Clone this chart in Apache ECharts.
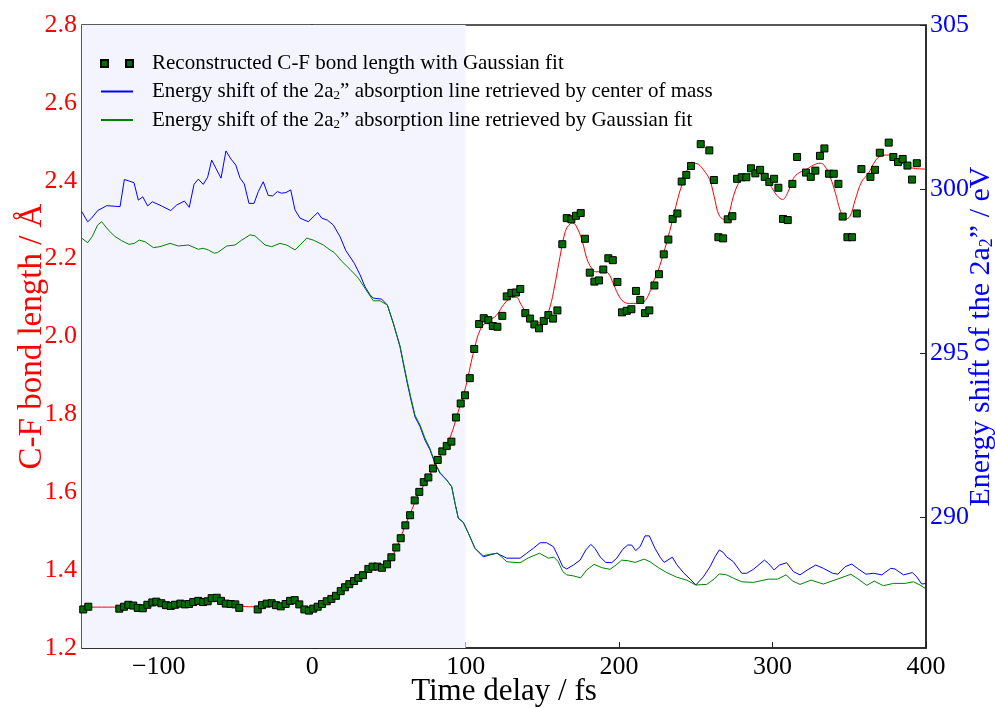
<!DOCTYPE html>
<html>
<head>
<meta charset="utf-8">
<script src="https://cdn.jsdelivr.net/npm/echarts@6/dist/echarts.min.js"></script>
<style>html,body{margin:0;padding:0;background:#fff;}#c{width:995px;height:708px;}</style>
</head>
<body>
<div id="c"></div>
<script>
// ---- data ----
const xTicks = [-100, 0, 100, 200, 300, 400];
const rightTicks = [290, 295, 300, 305];
const shadeRange = [-150, 100];

const bondT = [-149.2,-145.9,-125.7,-122.6,-119.8,-116.6,-113.7,-110.4,-107.4,-104.2,-101.6,-98.3,-95.3,-92.2,-89.4,-85.9,-82.9,-80.3,-77.5,-74.2,-71.1,-68.1,-65.5,-62.2,-59.4,-56.3,-53.1,-50.1,-47.5,-35.5,-32.7,-29.6,-26.4,-23.6,-20.5,-17.3,-14.4,-11.4,-8.4,-5.1,-2.1,0.7,3.6,6.4,9.5,12.5,15.5,18.6,21.4,24.2,27.3,30.1,33.1,36.6,39.4,42.5,45.5,48.8,51.6,54.8,57.7,60.7,63.8,66.8,69.8,72.7,75.7,78.7,81.8,84.8,87.7,90.7,93.7,96.8,99.6,102.7,105.6,108.8,111.8,114.8,117.7,120.7,123.9,126.8,129.8,132.8,135.6,138.9,142,144.8,147.8,150.9,153.9,157,159.8,163,165.9,168.9,171.9,175,177.8,180.9,183.9,186.9,189.7,193,195.9,198.9,201.9,205,208,211,213.8,216.9,219.7,223,226,229.1,232.1,234.9,238,240.8,243.8,246.9,253.2,258.8,261.8,264.7,267.8,270.8,273.8,276.9,279.9,282.9,286,288.8,291.9,294.9,297.9,301,303.8,306.8,309.9,312.9,316,321.8,324.9,327.9,330.9,333.8,336.8,339.9,342.9,345.7,348.8,351.8,354.9,357.9,363.8,366.8,369.9,375.7,378.7,381.8,384.8,387.9,390.9,394];
const bondL = [1.299,1.306,1.301,1.306,1.311,1.309,1.303,1.302,1.311,1.317,1.319,1.315,1.310,1.308,1.311,1.314,1.312,1.313,1.318,1.321,1.318,1.320,1.328,1.329,1.321,1.314,1.313,1.312,1.303,1.299,1.310,1.314,1.315,1.310,1.307,1.313,1.321,1.323,1.312,1.299,1.296,1.301,1.306,1.313,1.320,1.326,1.334,1.346,1.356,1.364,1.372,1.380,1.387,1.403,1.409,1.409,1.406,1.415,1.433,1.458,1.482,1.515,1.541,1.579,1.601,1.626,1.638,1.661,1.683,1.705,1.719,1.730,1.792,1.828,1.849,1.893,1.968,2.032,2.047,2.042,2.027,2.025,2.053,2.103,2.112,2.113,2.122,2.060,2.046,2.031,2.021,2.040,2.055,2.046,2.067,2.237,2.304,2.301,2.310,2.317,2.251,2.164,2.141,2.144,2.172,2.201,2.196,2.140,2.062,2.066,2.070,2.117,2.094,2.060,2.067,2.131,2.160,2.211,2.249,2.302,2.316,2.398,2.415,2.438,2.494,2.478,2.402,2.255,2.252,2.301,2.309,2.405,2.409,2.409,2.432,2.419,2.428,2.410,2.397,2.405,2.382,2.302,2.299,2.392,2.461,2.421,2.410,2.426,2.464,2.483,2.418,2.418,2.392,2.308,2.255,2.255,2.316,2.430,2.410,2.428,2.472,2.498,2.461,2.448,2.456,2.439,2.403,2.445];

const fitT = [-150,-140,-130,-125,-120,-115,-110,-105,-100,-95,-90,-85,-80,-75,-70,-65,-60,-55,-50,-45,-40,-35,-30,-25,-20,-15,-10,-5,0,5,10,15,20,25,30,35,40,45,50,55,60,65,70,75,80,85,90,95,100,105,110,115,120,125,130,133,136,140,145,148,152,155,158,161.5,165,168,170,173,176,179,182,185,190,193,196,199.5,203,207,211.5,216,219,222,225.6,229,232,235.4,238.6,242,245,248.4,251.7,255,259,262,265,268.4,271.2,274.4,277.7,281,285,290,294,298.4,302.7,306.6,309.7,313.6,317.5,322,326.6,331,334,337.5,341,344,347.3,350.5,353.8,358,362.5,366,370,374.5,379,383,387.5,392,400];
const fitL = [1.304,1.305,1.305,1.305,1.308,1.307,1.308,1.314,1.316,1.312,1.311,1.313,1.314,1.318,1.320,1.325,1.323,1.315,1.310,1.307,1.306,1.306,1.311,1.312,1.310,1.317,1.318,1.303,1.300,1.308,1.318,1.331,1.348,1.363,1.378,1.394,1.405,1.410,1.422,1.458,1.508,1.556,1.600,1.632,1.672,1.703,1.742,1.805,1.870,1.957,2.022,2.040,2.054,2.083,2.100,2.101,2.083,2.058,2.038,2.035,2.048,2.076,2.130,2.205,2.270,2.289,2.291,2.276,2.245,2.200,2.176,2.166,2.167,2.162,2.138,2.107,2.089,2.085,2.085,2.089,2.105,2.137,2.171,2.214,2.256,2.308,2.359,2.402,2.432,2.445,2.442,2.428,2.403,2.359,2.313,2.301,2.312,2.359,2.393,2.412,2.417,2.421,2.410,2.389,2.363,2.352,2.368,2.406,2.421,2.429,2.440,2.445,2.438,2.410,2.368,2.325,2.301,2.309,2.350,2.397,2.419,2.445,2.463,2.466,2.462,2.449,2.438,2.432,2.430];

const comT = [-150.2,-146.3,-143.7,-139.8,-133.9,-125.2,-122.4,-116.1,-113.3,-110.4,-107.2,-104.2,-98.1,-92.2,-88.3,-83.3,-80.1,-77,-74.2,-71,-68.1,-65.5,-62.2,-59.4,-56.2,-52.9,-49.8,-47,-44.2,-41.2,-37.9,-35.1,-31.9,-28.6,-25.7,-22.7,-19.9,-17.1,-14,-11.2,-7.9,-2.5,0.7,3.6,6.2,9.9,13.8,18.2,21.9,27.5,31.2,34.4,37.7,39.8,45.3,49,52.9,57.2,59.8,62,64.4,67,70.3,73.5,76.8,80,83.3,87.7,90.9,93.1,95.2,98.5,101.8,106.1,111.5,115.9,120.3,126.8,135.5,139.8,144.1,148.5,152.8,157.2,160.4,163.3,165.9,170.2,174.6,178.3,181.5,184.3,187.6,191.3,195.2,198.5,202.4,205.6,208.2,210.8,213.7,216.9,219.7,223.4,226.7,229.3,234.7,237.5,241.9,246.3,250,254.9,259.3,262.5,265.3,268,270.1,274.5,279.9,283.2,287.5,294.7,297.3,301,304.5,309.2,313.6,317.9,322.7,328.1,333.1,339.2,342.5,347.3,351.6,355.3,360.9,365.7,371.2,377,379.8,385.3,391.1,394,397.2,400];
const comE = [299.31,299.00,299.11,299.34,299.49,299.46,300.29,300.19,299.66,299.76,299.48,299.61,299.48,299.34,299.51,299.63,299.44,300.14,300.30,300.14,300.36,300.88,300.58,300.33,301.16,300.91,300.73,300.33,300.15,299.56,299.56,299.92,300.22,299.80,299.79,299.92,299.87,299.89,299.97,299.36,299.11,299.00,299.15,299.28,299.11,299.05,298.90,298.54,298.12,297.73,297.38,297.02,296.77,296.67,296.64,296.46,295.90,295.19,294.58,294.07,293.56,293.05,292.75,292.34,292.04,291.63,291.33,291.12,290.92,290.41,289.96,289.83,289.50,289.04,288.78,288.84,288.89,288.74,288.74,288.89,289.04,289.21,289.21,289.09,288.78,288.48,288.41,288.53,288.68,288.99,289.16,289.04,288.78,288.61,288.60,288.74,289.01,289.14,289.14,288.97,289.09,289.42,289.42,289.04,288.77,288.61,288.77,288.55,288.30,288.10,287.92,288.17,288.48,288.78,288.99,288.91,288.78,288.63,288.28,288.28,288.40,288.68,288.58,288.38,288.53,288.60,288.33,288.23,288.38,288.53,288.43,288.28,288.25,288.48,288.56,288.43,288.25,288.28,288.23,288.43,288.41,288.23,288.30,288.17,287.95,287.97];

const gaussT = [-150.2,-146.3,-143.3,-139.8,-137.2,-132.9,-128.5,-124.1,-119.4,-115.9,-112.7,-108.9,-103.5,-99.2,-92.6,-87.2,-80.7,-74.2,-71,-67.7,-63.8,-61.6,-55.7,-50.3,-45.9,-40.5,-37.3,-30.7,-26.4,-21,-16.6,-11.2,-7.9,-3.6,0.7,7.3,11.6,14.4,19.2,24.6,30.1,34.4,39.8,44.2,49,52.9,57.2,59.8,62,64.4,67,70.3,73.5,76.8,80,83.3,87.7,90.9,93.1,95.2,98.5,101.8,106.1,111.5,115.9,120.8,126.8,135.5,140.9,148.1,153.9,157.6,160.4,163.3,165.9,170.2,175,178.9,183.7,188.7,194.1,198,201.7,206,210.4,216.3,220.2,225.6,231.1,237.5,244.1,250,257.1,261.9,265.3,270.1,274.5,279.9,287.5,297.3,303.4,308.8,313.2,317.9,325.1,333.1,342.2,351.1,355.9,361.4,366.2,372.2,378.8,386.4,391.8,396.1,399.4];
const gaussE = [298.50,298.36,298.55,298.90,299.00,298.75,298.55,298.42,298.31,298.34,298.44,298.39,298.21,298.24,298.34,298.26,298.29,298.16,298.19,298.14,298.04,298.06,298.26,298.29,298.44,298.60,298.57,298.29,298.24,298.34,298.29,298.14,298.29,298.50,298.44,298.29,298.14,298.06,297.80,297.55,297.28,296.97,296.59,296.59,296.46,295.90,295.22,294.62,294.12,293.62,293.10,292.80,292.40,292.08,291.65,291.35,291.12,290.92,290.41,289.96,289.83,289.50,289.04,288.81,288.86,288.89,288.63,288.60,288.75,288.89,288.74,288.77,288.63,288.33,288.23,288.20,288.14,288.38,288.55,288.45,288.40,288.53,288.68,288.66,288.61,288.71,288.63,288.45,288.30,288.16,288.07,287.92,287.94,288.10,288.26,288.23,288.13,288.02,288.00,288.10,288.10,288.23,288.04,287.94,288.07,287.95,288.10,288.25,288.10,287.91,288.04,287.90,287.97,287.97,288.02,287.92,287.82];

const names = [
  'Reconstructed C-F bond length with Gaussian fit',
  'Energy shift of the 2a₂” absorption line retrieved by center of mass',
  'Energy shift of the 2a₂” absorption line retrieved by Gaussian fit'
];

// ---- chart ----
const FONT = 'Liberation Serif';
const zip = (a, b) => a.map((v, i) => [v, b[i]]);
const chart = echarts.init(document.getElementById('c'), null, {renderer: 'canvas'});
const sub = (sz, col, pad) => ({fontSize: sz, fontFamily: FONT, color: col, padding: [pad, 0, 0, 0]});

chart.setOption({
  animation: false,
  backgroundColor: '#fff',
  grid: {left: 82, right: 69, top: 25, bottom: 60, containLabel: false, outerBoundsMode: 'none',
    show: true, borderColor: '#222', borderWidth: 1.5, backgroundColor: 'transparent'},
  legend: {
    orient: 'vertical', left: 100, top: 53, padding: 0, itemGap: 7,
    itemWidth: 32, itemHeight: 7,
    data: [
      {name: names[0], icon: 'path://M0,0h7v7h-7z M25,0h7v7h-7z'},
      {name: names[1], itemStyle: {opacity: 0}},
      {name: names[2], itemStyle: {opacity: 0}}
    ],
    formatter: n => n.replace('₂', '{s|2}'),
    textStyle: {fontFamily: FONT, fontSize: 21, color: '#000', padding: [0, 0, 0, 14],
      rich: {s: sub(13, '#000', 9)}}
  },
  xAxis: {
    type: 'value', min: -150, max: 400,
    name: 'Time delay / fs', nameLocation: 'middle', nameGap: 28, nameMoveOverlap: false,
    nameTextStyle: {fontFamily: FONT, fontSize: 31, color: '#000'},
    axisLine: {show: true, onZero: false, lineStyle: {color: '#222', width: 1.5}},
    axisTick: {show: true, inside: true, length: 6, customValues: xTicks, lineStyle: {color: '#222'}},
    axisLabel: {customValues: xTicks, fontFamily: FONT, fontSize: 26, color: '#000', margin: 6,
      formatter: v => v < 0 ? '−' + Math.abs(v) : String(v)},
    splitLine: {show: false}
  },
  yAxis: [
    {
      type: 'value', min: 1.2, max: 2.8, interval: 0.2, position: 'left',
      name: 'C-F bond length / Å', nameLocation: 'middle', nameGap: 33, nameRotate: 90, nameMoveOverlap: false,
      nameTextStyle: {fontFamily: FONT, fontSize: 33, color: '#ff0000'},
      axisLine: {show: true, lineStyle: {color: '#222', width: 1.5}},
      axisTick: {show: true, inside: true, length: 6, lineStyle: {color: '#222'}},
      axisLabel: {fontFamily: FONT, fontSize: 26, color: '#ff0000', margin: 5, formatter: v => v.toFixed(1)},
      splitLine: {show: false}
    },
    {
      type: 'value', min: 286, max: 305, position: 'right',
      name: 'Energy shift of the 2a{s|2}” / eV', nameLocation: 'middle', nameGap: 40, nameRotate: 90, nameMoveOverlap: false,
      nameTextStyle: {fontFamily: FONT, fontSize: 30, color: '#0000ff', rich: {s: sub(18, '#0000ff', 12)}},
      axisLine: {show: true, lineStyle: {color: '#222', width: 1.5}},
      axisTick: {show: true, inside: true, length: 6, customValues: rightTicks, lineStyle: {color: '#222'}},
      axisLabel: {customValues: rightTicks, fontFamily: FONT, fontSize: 26, color: '#0000ff', margin: 4},
      splitLine: {show: false}
    }
  ],
  series: [
    {
      name: 'shade', type: 'line', data: [], yAxisIndex: 0, silent: true,
      markArea: {silent: true, itemStyle: {color: '#f4f4fe'}, data: [[{xAxis: shadeRange[0]}, {xAxis: shadeRange[1]}]]},
      z: 0
    },
    {
      name: names[0], type: 'scatter', yAxisIndex: 0, symbol: 'rect', symbolSize: 7,
      itemStyle: {color: '#006e00', borderColor: '#000', borderWidth: 1, opacity: 1},
      data: zip(bondT, bondL), z: 5
    },
    {
      name: names[1], type: 'line', yAxisIndex: 1, symbol: 'none', showSymbol: false,
      lineStyle: {color: '#0000ff', width: 1}, itemStyle: {color: '#0000ff'},
      data: zip(comT, comE), z: 3
    },
    {
      name: names[2], type: 'line', yAxisIndex: 1, symbol: 'none', showSymbol: false,
      lineStyle: {color: '#008000', width: 1}, itemStyle: {color: '#008000'},
      data: zip(gaussT, gaussE), z: 3
    },
    {
      name: 'fit', type: 'line', yAxisIndex: 0, symbol: 'none', showSymbol: false, smooth: 0.4,
      lineStyle: {color: '#ff0000', width: 1}, itemStyle: {color: '#ff0000'},
      data: zip(fitT, fitL), z: 4
    }
  ]
});
</script>
</body>
</html>
